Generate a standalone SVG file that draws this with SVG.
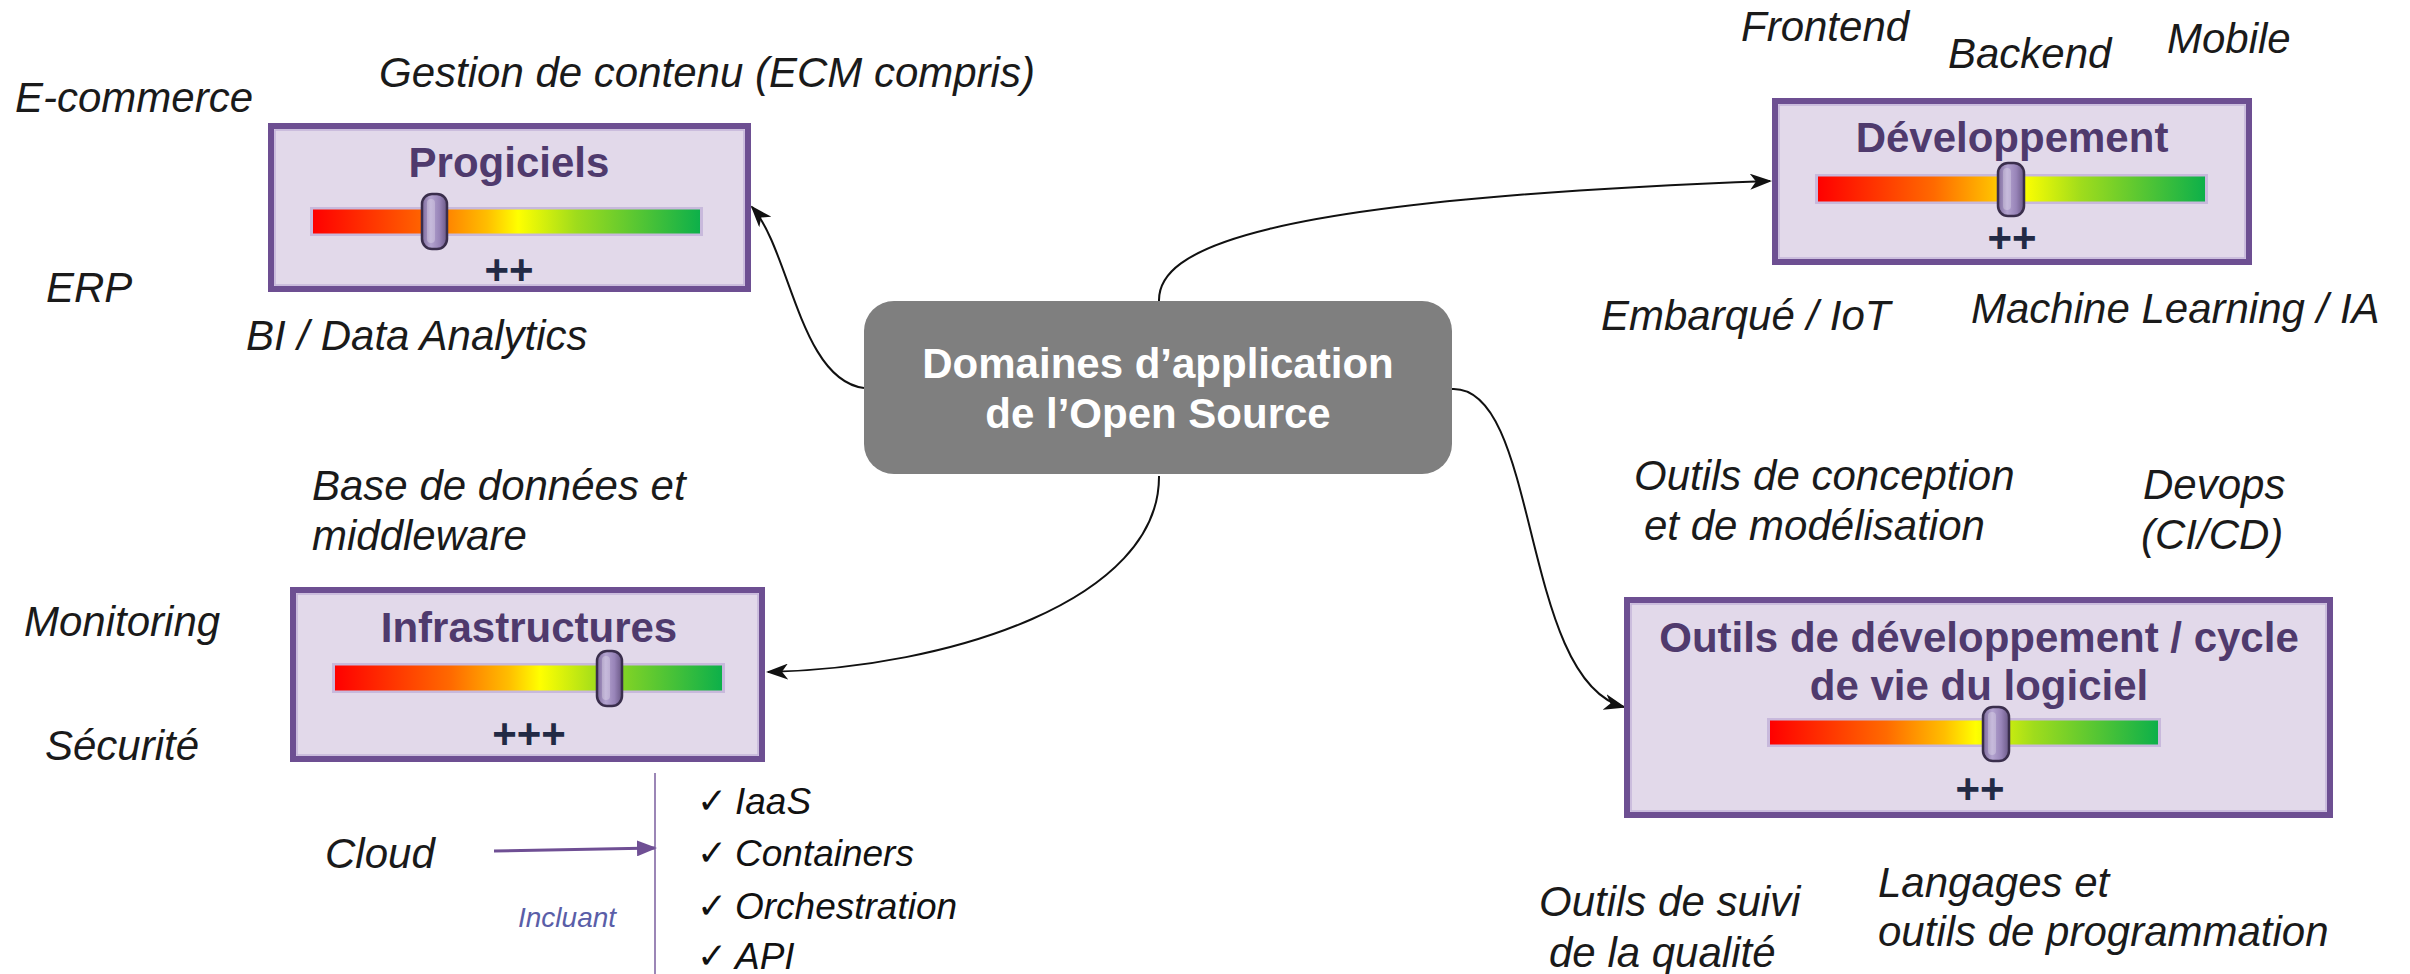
<svg xmlns="http://www.w3.org/2000/svg" width="2410" height="974" viewBox="0 0 2410 974">
<defs>
<linearGradient id="bar" x1="0" y1="0" x2="1" y2="0">
<stop offset="0" stop-color="#ff0000"/>
<stop offset="0.3" stop-color="#ff6a00"/>
<stop offset="0.45" stop-color="#ffbe00"/>
<stop offset="0.53" stop-color="#ffff00"/>
<stop offset="0.68" stop-color="#9fdc1c"/>
<stop offset="1" stop-color="#0db04a"/>
</linearGradient>
<linearGradient id="knob" x1="0" y1="0" x2="1" y2="0">
<stop offset="0" stop-color="#7e6b9c"/>
<stop offset="0.35" stop-color="#b4a4d0"/>
<stop offset="0.7" stop-color="#9884b8"/>
<stop offset="1" stop-color="#6a5886"/>
</linearGradient>
<marker id="ah" markerWidth="22" markerHeight="16" refX="20" refY="8" orient="auto" markerUnits="userSpaceOnUse">
<path d="M0,0 L22,8 L0,16 L6,8 z" fill="#111"/>
</marker>
<marker id="ahp" markerWidth="20" markerHeight="16" refX="18" refY="8" orient="auto" markerUnits="userSpaceOnUse">
<path d="M0,0 L20,8 L0,16 z" fill="#6f4f94"/>
</marker>
<style>
.box{fill:#e2d9ea;stroke:#6d4f92;stroke-width:6}
.inner{fill:none;stroke:#c3b4d9;stroke-width:1.5}
.title{font-family:"Liberation Sans",Arial,sans-serif;font-weight:bold;font-size:42px;fill:#4f3a6d;text-anchor:middle}
.plus{font-family:"Liberation Sans",Arial,sans-serif;font-weight:bold;font-size:42px;fill:#222a45;text-anchor:middle}
.barbg{fill:#c8b9dc}
.barfill{fill:url(#bar)}
.kn{fill:url(#knob);stroke:#3a2e4c;stroke-width:2.5}
.hl{fill:#ffffff;opacity:0.25}
.lbl{font-family:"Liberation Sans",Arial,sans-serif;font-style:italic;font-size:42px;fill:#1a1a1a}
.chk{font-family:"Liberation Sans",Arial,sans-serif;font-style:italic;font-size:37px;fill:#111}
.mark{font-family:"DejaVu Sans",sans-serif;font-size:36px;fill:#111}
.conn{fill:none;stroke:#111;stroke-width:2}
.ctr{font-family:"Liberation Sans",Arial,sans-serif;font-weight:bold;font-size:42px;fill:#ffffff;text-anchor:middle}
</style>
</defs>
<rect width="2410" height="974" fill="#ffffff"/>

<g id="connectors">
<path class="conn" d="M 864 388 C 800 380, 790 250, 752 207" marker-end="url(#ah)"/>
<path class="conn" d="M 1159 301 C 1158 250, 1250 200, 1770 181" marker-end="url(#ah)"/>
<path class="conn" d="M 1159 476 C 1160 600, 950 668, 768 672" marker-end="url(#ah)"/>
<path class="conn" d="M 1452 389 C 1540 385, 1520 680, 1624 707" marker-end="url(#ah)"/>
<path d="M 494 851 L 655 848" fill="none" stroke="#6f4f94" stroke-width="3" marker-end="url(#ahp)"/>
<line x1="655" y1="773" x2="655" y2="974" stroke="#7a5e9e" stroke-width="1.5"/>
</g>

<g id="center">
<rect x="864" y="301" width="588" height="173" rx="30" fill="#7f7f7f"/>
<text class="ctr" x="1158" y="378">Domaines d’application</text>
<text class="ctr" x="1158" y="428">de l’Open Source</text>
</g>

<g id="progiciels">
<rect class="box" x="271" y="126" width="477" height="163"/>
<rect class="inner" x="275" y="130" width="469" height="155"/>
<text class="title" x="509" y="177">Progiciels</text>
<rect class="barbg" x="310" y="207" width="393" height="29"/>
<rect class="barfill" x="313" y="209.5" width="387" height="24"/>
<rect class="kn" x="422" y="194" width="25" height="55" rx="10"/>
<rect class="hl" x="427" y="199" width="8" height="44" rx="4"/>
<text class="plus" x="509" y="284">++</text>
</g>

<g id="developpement">
<rect class="box" x="1775" y="101" width="474" height="161"/>
<rect class="inner" x="1779" y="105" width="466" height="153"/>
<text class="title" x="2012" y="152">Développement</text>
<rect class="barbg" x="1815" y="174" width="393" height="30"/>
<rect class="barfill" x="1818" y="176.5" width="387" height="25"/>
<rect class="kn" x="1998" y="163" width="26" height="53" rx="10"/>
<rect class="hl" x="2003" y="168" width="8" height="42" rx="4"/>
<text class="plus" x="2012" y="252">++</text>
</g>

<g id="infrastructures">
<rect class="box" x="293" y="590" width="469" height="169"/>
<rect class="inner" x="297" y="594" width="461" height="161"/>
<text class="title" x="529" y="642">Infrastructures</text>
<rect class="barbg" x="332" y="663" width="393" height="30"/>
<rect class="barfill" x="335" y="665.5" width="387" height="25"/>
<rect class="kn" x="597" y="651" width="25" height="55" rx="10"/>
<rect class="hl" x="602" y="656" width="8" height="44" rx="4"/>
<text class="plus" x="529" y="748">+++</text>
</g>

<g id="outils">
<rect class="box" x="1627" y="600" width="703" height="215"/>
<rect class="inner" x="1631" y="604" width="695" height="207"/>
<text class="title" x="1979" y="652">Outils de développement / cycle</text>
<text class="title" x="1979" y="700">de vie du logiciel</text>
<rect class="barbg" x="1767" y="718" width="394" height="29"/>
<rect class="barfill" x="1770" y="720.5" width="388" height="24"/>
<rect class="kn" x="1983" y="707" width="26" height="54" rx="10"/>
<rect class="hl" x="1988" y="712" width="8" height="43" rx="4"/>
<text class="plus" x="1980" y="803">++</text>
</g>

<g id="labels">
<text class="lbl" x="15" y="112">E-commerce</text>
<text class="lbl" x="379" y="87">Gestion de contenu (ECM compris)</text>
<text class="lbl" x="46" y="302">ERP</text>
<text class="lbl" x="246" y="350">BI / Data Analytics</text>
<text class="lbl" x="1741" y="41">Frontend</text>
<text class="lbl" x="1948" y="68">Backend</text>
<text class="lbl" x="2167" y="53">Mobile</text>
<text class="lbl" x="1601" y="330">Embarqué / IoT</text>
<text class="lbl" x="1971" y="323">Machine Learning / IA</text>
<text class="lbl" x="312" y="500">Base de données et</text>
<text class="lbl" x="312" y="550">middleware</text>
<text class="lbl" x="24" y="636">Monitoring</text>
<text class="lbl" x="45" y="760">Sécurité</text>
<text class="lbl" x="1634" y="490">Outils de conception</text>
<text class="lbl" x="1644" y="540">et de modélisation</text>
<text class="lbl" x="2143" y="499">Devops</text>
<text class="lbl" x="2141" y="549">(CI/CD)</text>
<text class="lbl" x="1539" y="916">Outils de suivi</text>
<text class="lbl" x="1549" y="967">de la qualité</text>
<text class="lbl" x="1878" y="897">Langages et</text>
<text class="lbl" x="1878" y="946">outils de programmation</text>
<text class="lbl" x="325" y="868">Cloud</text>
<text x="518" y="927" font-family="Liberation Sans, Arial, sans-serif" font-style="italic" font-size="28" fill="#5a5ea8">Incluant</text>
</g>

<g id="cloud-list">
<text class="mark" x="697" y="813">✓</text><text class="chk" x="735" y="814">IaaS</text>
<text class="mark" x="697" y="865">✓</text><text class="chk" x="735" y="866">Containers</text>
<text class="mark" x="697" y="918">✓</text><text class="chk" x="735" y="919">Orchestration</text>
<text class="mark" x="697" y="968">✓</text><text class="chk" x="735" y="969">API</text>
</g>
</svg>
